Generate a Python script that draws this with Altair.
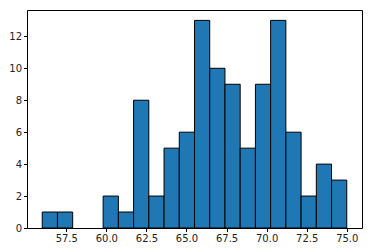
import altair as alt
import pandas as pd

bin_start = [56.00, 56.95, 57.90, 58.85, 59.80, 60.75, 61.70, 62.65, 63.60, 64.55,
             65.50, 66.45, 67.40, 68.35, 69.30, 70.25, 71.20, 72.15, 73.10, 74.05]
bin_end = [56.95, 57.90, 58.85, 59.80, 60.75, 61.70, 62.65, 63.60, 64.55, 65.50,
           66.45, 67.40, 68.35, 69.30, 70.25, 71.20, 72.15, 73.10, 74.05, 75.00]
counts = [1, 1, 0, 0, 2, 1, 8, 2, 5, 6, 13, 10, 9, 5, 9, 13, 6, 2, 4, 3]
x_ticks = [57.5, 60.0, 62.5, 65.0, 67.5, 70.0, 72.5, 75.0]
y_ticks = [0, 2, 4, 6, 8, 10, 12]

df = pd.DataFrame({"start": bin_start, "end": bin_end, "count": counts})

axis_style = dict(title=None, grid=False, domain=False, tickColor="black",
                  tickSize=3.5, labelPadding=2, labelColor="#222",
                  labelFontSize=10, labelFont="DejaVu Sans")

chart = (
    alt.Chart(df)
    .transform_filter("datum.count > 0")
    .mark_bar(color="#1f77b4", stroke="black", strokeWidth=1)
    .encode(
        x=alt.X("start:Q",
                scale=alt.Scale(domain=[55.05, 75.95], nice=False, zero=False),
                axis=alt.Axis(values=x_ticks, format=".1f", **axis_style)),
        x2="end:Q",
        y=alt.Y("count:Q",
                scale=alt.Scale(domain=[0, 13.65], nice=False),
                axis=alt.Axis(values=y_ticks, **axis_style)),
        y2=alt.datum(0),
    )
    .properties(width=335, height=218,
                autosize=alt.AutoSizeParams(type="none"),
                padding={"left": 27, "top": 10, "right": 10, "bottom": 24})
    .configure(background="white",
               view=alt.ViewConfig(stroke="black", strokeWidth=1))
)

chart.save("out.html", embed_options={"renderer": "svg", "actions": False})
